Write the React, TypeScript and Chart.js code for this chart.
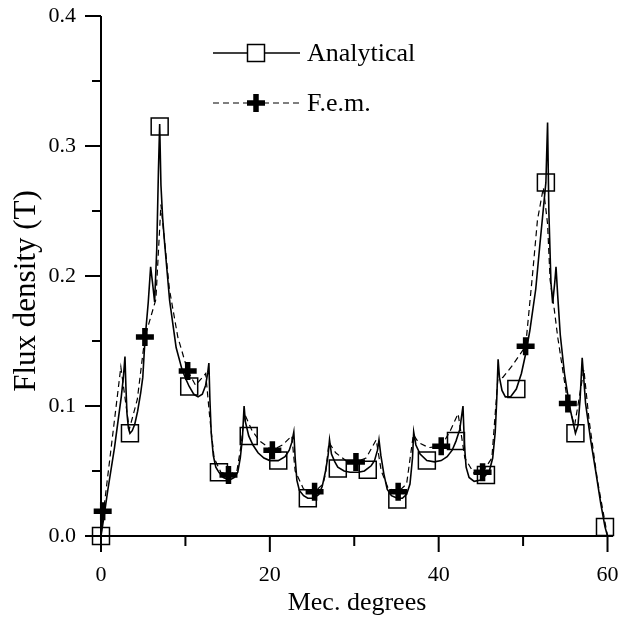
import React, { useEffect, useRef } from 'react';
import { Chart, registerables } from 'chart.js';

Chart.register(...registerables);

// ---- axis ticks ----
const xTickValues = [0, 10, 20, 30, 40, 50, 60];
const xTickLabels = ['0', '', '20', '', '40', '', '60'];
const yTickValues = [0, 0.05, 0.1, 0.15, 0.2, 0.25, 0.3, 0.35, 0.4];
const yTickLabels = ['0.0', '', '0.1', '', '0.2', '', '0.3', '', '0.4'];

// ---- Analytical (solid line) ----
const analyticalDeg = [
  0, 0.4, 0.8, 1.6, 2.4, 2.65, 2.84, 2.95, 3.08, 3.25, 3.43, 3.7, 4.0, 4.34, 4.7, 4.95, 5.2, 5.6, 5.88, 6.1,
  6.35, 6.6, 6.8, 6.95, 7.1, 7.3, 7.54, 8.13, 8.9, 9.6, 10.1, 10.45, 11.0, 11.5, 12.0, 12.4, 12.65, 12.78, 12.9, 13.06,
  13.3, 13.6, 13.97, 14.5, 15.2, 15.8, 16.2, 16.5, 16.75, 16.95, 17.1, 17.5, 18.0, 18.6, 19.3, 20.0, 21.0, 21.8, 22.3, 22.6,
  22.84, 23.0, 23.2, 23.5, 24.0, 24.5, 25.2, 25.8, 26.2, 26.6, 26.9, 27.07, 27.3, 27.7, 28.05, 28.8, 29.5, 30.0, 30.5, 31.2,
  31.6, 32.0, 32.4, 32.75, 32.93, 33.15, 33.5, 33.9, 34.4, 35.1, 35.7, 36.2, 36.6, 36.9, 37.04, 37.3, 37.8, 38.6, 39.5, 40.3,
  41.0, 41.6, 42.05, 42.5, 42.88, 43.05, 43.25, 43.6, 44.2, 45.0, 45.6, 46.0, 46.4, 46.7, 46.88, 47.04, 47.2, 47.5, 47.9, 48.5,
  49.2, 49.8, 50.3, 50.8, 51.5, 52.0, 52.3, 52.7, 52.9, 53.05, 53.3, 53.5, 53.75, 53.9, 54.1, 54.4, 54.9, 55.5, 56.2, 56.5,
  56.75, 57.0, 57.2, 57.4, 58.0, 58.6, 59.2, 59.7, 60.0,
];
const analyticalB = [
  0, 0.017, 0.035, 0.068, 0.107, 0.122, 0.138, 0.115, 0.094, 0.083, 0.079, 0.081, 0.086, 0.096, 0.11, 0.122, 0.15, 0.18, 0.207, 0.195,
  0.18, 0.22, 0.28, 0.317, 0.27, 0.245, 0.225, 0.181, 0.145, 0.128, 0.12, 0.115, 0.109, 0.107, 0.109, 0.116, 0.126, 0.133, 0.105, 0.079,
  0.062, 0.053, 0.049, 0.045, 0.043, 0.045, 0.049, 0.06, 0.075, 0.1, 0.088, 0.077, 0.07, 0.064, 0.06, 0.058, 0.058, 0.061, 0.066, 0.072,
  0.08, 0.06, 0.043, 0.035, 0.031, 0.029, 0.029, 0.032, 0.038, 0.05, 0.062, 0.074, 0.063, 0.057, 0.053, 0.05, 0.049, 0.049, 0.049, 0.05,
  0.052, 0.054, 0.058, 0.066, 0.074, 0.062, 0.048, 0.036, 0.031, 0.029, 0.029, 0.032, 0.04, 0.06, 0.08, 0.07, 0.063, 0.058, 0.057, 0.058,
  0.061, 0.066, 0.073, 0.082, 0.1, 0.07, 0.053, 0.045, 0.042, 0.043, 0.047, 0.05, 0.06, 0.08, 0.105, 0.136, 0.122, 0.112, 0.107, 0.107,
  0.113, 0.125, 0.14, 0.158, 0.19, 0.225, 0.245, 0.272, 0.318, 0.25, 0.195, 0.179, 0.195, 0.207, 0.185, 0.155, 0.125, 0.1, 0.079, 0.085,
  0.105, 0.137, 0.12, 0.102, 0.074, 0.05, 0.025, 0.007, 0,
];
const analyticalMarkDeg = [0, 3.43, 6.95, 10.45, 13.97, 17.5, 21.0, 24.5, 28.05, 31.6, 35.1, 38.6, 42.05, 45.6, 49.2, 52.7, 56.2, 59.7];
const analyticalMarkB = [0, 0.079, 0.315, 0.115, 0.049, 0.077, 0.058, 0.029, 0.052, 0.051, 0.028, 0.058, 0.073, 0.047, 0.113, 0.272, 0.079, 0.007];

// ---- F.e.m. (dashed line) ----
const femDeg = [
  0, 0.3, 2.35, 3.35, 4.3, 5.2, 6.5, 7.1, 8.1, 9.1, 10.27, 11.2, 12.4, 12.9, 13.4, 14.2, 15.1, 16.1, 16.6, 17.0,
  17.9, 18.8, 20.3, 21.5, 22.6, 23.0, 24.0, 25.3, 26.3, 26.6, 27.0, 27.8, 29.0, 30.2, 31.4, 32.6, 33.2, 34.0, 35.2, 36.2,
  37.0, 37.6, 38.8, 40.3, 41.3, 42.3, 43.1, 44.2, 45.2, 46.3, 47.0, 47.6, 48.6, 50.3, 51.1, 51.7, 52.4, 52.9, 53.2, 53.7,
  54.1, 55.3, 56.1, 57.2, 57.8, 58.8, 60.0,
];
const femB = [
  0, 0.019, 0.13, 0.082, 0.105, 0.153, 0.182, 0.255, 0.19, 0.153, 0.127, 0.116, 0.125, 0.09, 0.06, 0.049, 0.047, 0.05, 0.07, 0.094,
  0.081, 0.073, 0.066, 0.07, 0.077, 0.05, 0.036, 0.034, 0.04, 0.048, 0.072, 0.064, 0.058, 0.057, 0.06, 0.074, 0.05, 0.037, 0.034, 0.04,
  0.078, 0.072, 0.068, 0.069, 0.08, 0.094, 0.06, 0.048, 0.049, 0.06, 0.12, 0.122, 0.13, 0.146, 0.2, 0.243, 0.268, 0.24, 0.197, 0.174,
  0.153, 0.102, 0.085, 0.128, 0.09, 0.043, 0,
];
const femMarkDeg = [0.2, 5.2, 10.27, 15.1, 20.3, 25.3, 30.2, 35.2, 40.3, 45.2, 50.3, 55.3];
const femMarkB = [0.019, 0.153, 0.127, 0.047, 0.066, 0.034, 0.057, 0.034, 0.069, 0.049, 0.146, 0.102];

const FONT = "'Liberation Serif', 'Times New Roman', serif";

const pts = (xs: number[], ys: number[]) => xs.map((x, i) => ({ x, y: ys[i] }));

const findLabel = (vals: number[], labels: string[], v: number) => {
  const i = vals.findIndex((t) => Math.abs(t - v) < 1e-6);
  return i >= 0 ? labels[i] : '';
};

const zeroPad = (s: any) => {
  s.paddingTop = 0;
  s.paddingBottom = 0;
  s.paddingLeft = 0;
  s.paddingRight = 0;
};

const decorPlugin = {
  id: 'decor',
  afterDraw(chart: any) {
    const ctx = chart.ctx as CanvasRenderingContext2D;
    const xs = chart.scales.x;
    const ys = chart.scales.y;
    const x0 = xs.getPixelForValue(0);
    const y0 = ys.getPixelForValue(0);
    const yTop = ys.getPixelForValue(0.4);
    ctx.save();
    ctx.strokeStyle = '#000';
    ctx.lineWidth = 2;
    ctx.lineCap = 'butt';
    // axis lines
    ctx.beginPath();
    ctx.moveTo(x0, yTop);
    ctx.lineTo(x0, y0);
    ctx.moveTo(x0 - 1, y0);
    ctx.lineTo(chart.chartArea.right, y0);
    ctx.stroke();
    // tick marks
    ctx.beginPath();
    xTickValues.forEach((v, i) => {
      const px = xs.getPixelForValue(v);
      const len = xTickLabels[i] ? 16 : 10;
      ctx.moveTo(px, y0);
      ctx.lineTo(px, y0 + len);
    });
    yTickValues.forEach((v, i) => {
      const py = ys.getPixelForValue(v);
      const len = yTickLabels[i] ? 16 : 9;
      ctx.moveTo(x0, py);
      ctx.lineTo(x0 - len, py);
    });
    ctx.stroke();

    // y axis title
    ctx.fillStyle = '#000';
    ctx.font = `31px ${FONT}`;
    ctx.textAlign = 'center';
    ctx.textBaseline = 'middle';
    ctx.save();
    ctx.translate(27, 291);
    ctx.rotate(-Math.PI / 2);
    ctx.fillText('Flux density (T)', 0, 0);
    ctx.restore();

    // legend
    const lx0 = 213, lx1 = 300, lm = 256;
    const r1 = 53, r2 = 103;
    ctx.lineWidth = 1.5;
    ctx.beginPath();
    ctx.moveTo(lx0, r1);
    ctx.lineTo(lx1, r1);
    ctx.stroke();
    ctx.fillStyle = '#fff';
    ctx.fillRect(lm - 8.5, r1 - 8.5, 17, 17);
    ctx.strokeRect(lm - 8.5, r1 - 8.5, 17, 17);
    ctx.lineWidth = 1.2;
    ctx.setLineDash([6, 4]);
    ctx.beginPath();
    ctx.moveTo(lx0, r2);
    ctx.lineTo(lx1, r2);
    ctx.stroke();
    ctx.setLineDash([]);
    ctx.lineWidth = 5.5;
    ctx.beginPath();
    ctx.moveTo(lm - 9, r2);
    ctx.lineTo(lm + 9, r2);
    ctx.moveTo(lm, r2 - 9);
    ctx.lineTo(lm, r2 + 9);
    ctx.stroke();
    ctx.fillStyle = '#000';
    ctx.font = `26px ${FONT}`;
    ctx.textAlign = 'left';
    ctx.textBaseline = 'middle';
    ctx.fillText('Analytical', 307, r1 + 1);
    ctx.fillText('F.e.m.', 307, r2 + 1);
    ctx.restore();
  },
};

export default function App() {
  const ref = useRef<HTMLCanvasElement | null>(null);
  useEffect(() => {
    if (!ref.current) return;
    const chart = new Chart(ref.current, {
      type: 'scatter',
      data: {
        datasets: [
          {
            label: 'Analytical',
            data: pts(analyticalDeg, analyticalB),
            showLine: true,
            borderColor: '#000',
            borderWidth: 1.6,
            pointRadius: 0,
            pointHoverRadius: 0,
            tension: 0,
          },
          {
            label: 'Analytical markers',
            data: pts(analyticalMarkDeg, analyticalMarkB),
            showLine: false,
            clip: false,
            pointStyle: 'rect',
            pointRadius: 12,
            pointHoverRadius: 12,
            borderColor: '#000',
            borderWidth: 1.5,
            backgroundColor: 'rgba(0,0,0,0)',
          },
          {
            label: 'F.e.m.',
            data: pts(femDeg, femB),
            showLine: true,
            borderColor: '#000',
            borderWidth: 1.2,
            borderDash: [6, 4],
            pointRadius: 0,
            pointHoverRadius: 0,
            tension: 0,
          },
          {
            label: 'F.e.m. markers',
            data: pts(femMarkDeg, femMarkB),
            showLine: false,
            clip: false,
            pointStyle: 'cross',
            pointRadius: 9,
            pointHoverRadius: 9,
            borderColor: '#000',
            borderWidth: 5.5,
          },
        ],
      },
      options: {
        animation: false,
        responsive: false,
        devicePixelRatio: 1,
        events: [],
        layout: { autoPadding: false, padding: { top: 16, right: 7, left: 0, bottom: 0 } },
        plugins: { legend: { display: false }, tooltip: { enabled: false } },
        scales: {
          x: {
            type: 'linear',
            min: 0,
            max: 60.65,
            afterBuildTicks: (s: any) => {
              s.ticks = xTickValues.map((v) => ({ value: v }));
            },
            afterFit: (s: any) => {
              s.height = 83;
              zeroPad(s);
            },
            grid: { display: false, drawTicks: false },
            border: { display: false },
            ticks: {
              autoSkip: false,
              maxRotation: 0,
              padding: 26,
              color: '#000',
              font: { family: FONT, size: 22 },
              callback: (v: any) => findLabel(xTickValues, xTickLabels, Number(v)),
            },
            title: {
              display: true,
              text: 'Mec. degrees',
              color: '#000',
              font: { family: FONT, size: 26 },
              padding: { top: 0, bottom: 0 },
            },
          },
          y: {
            type: 'linear',
            min: 0,
            max: 0.4,
            afterBuildTicks: (s: any) => {
              s.ticks = yTickValues.map((v) => ({ value: v }));
            },
            afterFit: (s: any) => {
              s.width = 101;
              zeroPad(s);
            },
            grid: { display: false, drawTicks: false },
            border: { display: false },
            ticks: {
              autoSkip: false,
              padding: 25,
              color: '#000',
              font: { family: FONT, size: 22 },
              callback: (v: any) => findLabel(yTickValues, yTickLabels, Number(v)),
            },
          },
        },
      },
      plugins: [decorPlugin],
    } as any);
    return () => chart.destroy();
  }, []);
  return (
    <div style={{ position: 'fixed', left: 0, top: 0, width: 620, height: 619, background: '#fff' }}>
      <canvas ref={ref} width={620} height={619} style={{ display: 'block' }} />
    </div>
  );
}
